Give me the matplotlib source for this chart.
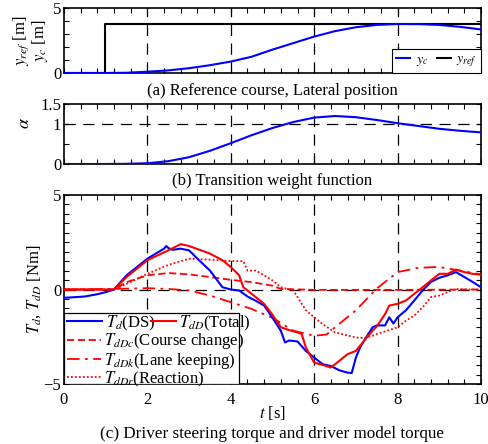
import numpy as np
import matplotlib
matplotlib.use("Agg")
import matplotlib.pyplot as plt
from matplotlib.patches import Rectangle
from matplotlib.ticker import MultipleLocator

plt.rcParams['font.family'] = ['Liberation Serif', 'DejaVu Serif']
plt.rcParams['mathtext.fontset'] = 'stix'
plt.rcParams['font.size'] = 11

# (a) lateral position
t_pos = [0, 1, 1.5, 2, 2.5, 3, 3.5, 4, 4.5, 5, 5.5, 6, 6.5, 7, 7.5, 8, 8.5, 9, 9.5, 10]
y_c = [0, 0, 0.02, 0.1, 0.2, 0.37, 0.6, 0.88, 1.25, 1.8, 2.3, 2.8, 3.22, 3.52, 3.7, 3.77, 3.76, 3.7, 3.55, 3.35]
t_ref = [0, 0.98, 0.98, 10]
y_ref = [0, 0, 3.77, 3.77]

# (b) transition weight
alpha = [0, 0, 0.005, 0.02, 0.07, 0.17, 0.33, 0.52, 0.72, 0.9, 1.05, 1.16, 1.2, 1.17, 1.1, 1.02, 0.95, 0.88, 0.83, 0.79]

# (c) torques
t_Td = [0, 0.3, 0.5, 0.8, 1.0, 1.2, 1.5, 1.7, 2.0, 2.2, 2.4, 2.45, 2.5, 2.6, 2.8, 3.0, 3.2, 3.5, 3.8, 4.0,
        4.2, 4.4, 4.6, 4.8, 5.0, 5.2, 5.3, 5.4, 5.6, 5.8, 6.0, 6.2, 6.4, 6.6, 6.8, 6.9, 7.0, 7.1, 7.2, 7.4,
        7.5, 7.7, 7.8, 7.9, 8.0, 8.2, 8.4, 8.6, 8.8, 9.0, 9.2, 9.4, 9.6, 9.8, 10]
Td = [-0.44, -0.4, -0.37, -0.25, -0.14, 0, 0.75, 1.1, 1.63, 1.9, 2.16, 2.3, 2.2, 2.1, 2.16, 2.07, 1.63, 1.0, 0.12, 0,
      -0.05, -0.37, -0.6, -0.85, -1.5, -2.18, -2.8, -2.7, -2.75, -3.25, -3.6, -3.95, -4.05, -4.27, -4.4, -4.42, -3.6, -3.07, -2.7, -2.0,
      -1.9, -1.9, -1.47, -1.8, -1.47, -1.1, -0.58, -0.05, 0.4, 0.62, 0.75, 0.92, 0.66, 0.4, 0.12]

t_tot = [0, 1.2, 1.5, 2.0, 2.5, 2.8, 3.0, 3.5, 3.8, 4.0, 4.2, 4.3, 4.5, 4.8, 5.0, 5.2, 5.4, 5.6, 5.7, 5.8, 6.0,
         6.2, 6.4, 6.6, 6.8, 7.0, 7.2, 7.4, 7.5, 7.7, 7.8, 8.0, 8.2, 8.4, 8.6, 8.8, 9.0, 9.2, 9.4, 9.6, 9.8, 10]
T_tot = [0, 0, 0.66, 1.55, 2.07, 2.4, 2.3, 1.9, 1.55, 1.19, 0.75, 0.12, -0.23, -0.76, -1.34, -2.0, -2.15, -2.27, -2.36, -3.07, -3.87,
         -3.99, -4.13, -3.78, -3.42, -3.25, -2.7, -2.18, -1.95, -1.3, -0.85, -0.76, -0.58, -0.23, 0.12, 0.48, 0.83, 0.83, 1.05, 0.92, 0.83, 0.78]

t_c = [0, 1.2, 1.5, 2.0, 2.5, 3.0, 3.5, 4.0, 4.5, 5.0, 5.2, 6, 7, 8, 9, 10]
T_c = [0, 0, 0.39, 0.75, 0.87, 0.8, 0.66, 0.51, 0.39, 0.2, 0.03, -0.02, -0.02, -0.02, -0.01, 0]

t_k = [0, 1, 2, 2.5, 3, 3.5, 4, 4.5, 5, 5.5, 6, 6.3, 6.5, 7, 7.5, 8, 8.5, 9, 9.5, 10]
T_k = [0, 0.02, 0.07, 0.03, -0.05, -0.32, -0.67, -1.03, -1.5, -2.18, -2.45, -2.38, -2.0, -1.1, 0.05, 0.92, 1.15, 1.19, 1.0, 0.8]

t_r = [0, 1.2, 1.5, 2, 2.5, 3, 3.5, 4, 4.3, 4.4, 4.6, 4.8, 5, 5.2, 5.5, 5.6, 5.8, 6, 6.2, 6.5, 7, 7.2, 7.4, 7.5,
       8, 8.2, 8.4, 8.6, 8.8, 9, 9.2, 9.4, 9.6, 10]
T_r = [0, 0, 0.3, 0.83, 1.3, 1.63, 1.58, 1.5, 1.5, 1.0, 1.0, 0.75, 0.48, 0.12, -0.05, -0.4, -1.1, -1.47, -1.83, -2.27, -2.54, -2.57, -2.45, -2.36,
       -2.0, -1.65, -1.38, -0.94, -0.4, -0.32, -0.14, 0.03, 0.0, 0.0]

vlines = [2, 4, 6, 8]
dash = (0, (9, 6))

fig = plt.figure(figsize=(4.89, 4.44), dpi=100)
L, W = 64 / 489, 417 / 489
ax1 = fig.add_axes([L, (444 - 73) / 444, W, 65 / 444])
ax2 = fig.add_axes([L, (444 - 164) / 444, W, 60 / 444])
ax3 = fig.add_axes([L, (444 - 384) / 444, W, 189 / 444])


def style(ax, ymin, ymax, yticks, ystep):
    ax.set_xlim(0, 10)
    ax.set_ylim(ymin, ymax)
    ax.set_xticks([0, 2, 4, 6, 8, 10])
    ax.xaxis.set_minor_locator(MultipleLocator(0.4))
    ax.set_yticks(yticks)
    ax.yaxis.set_minor_locator(MultipleLocator(ystep))
    ax.tick_params(which='both', direction='in', top=True, right=True, width=0.8, length=3.5)
    ax.tick_params(axis='both', pad=2, labelsize=12)
    ax.tick_params(axis='x', pad=6)
    for s in ax.spines.values():
        s.set_linewidth(1.2)
    for v in vlines:
        ax.axvline(v, color='k', ls=dash, lw=0.9, zorder=1)


# panel a
style(ax1, 0, 5, [0, 5], 1)
ax1.plot(t_pos, y_c, color='b', lw=1.5, label='$y_c$', zorder=3)
ax1.plot(t_ref, y_ref, color='k', lw=1.5, label='$y_{ref}$', zorder=2)
ax1.set_xticklabels([])
ax1.set_ylabel('$y_{ref}$ [m]\n$y_c$ [m]', fontsize=12, labelpad=2, linespacing=0.9)
leg1 = ax1.legend(loc='lower right', ncol=2, fontsize=10, handlelength=1.0, handletextpad=0.4,
                  columnspacing=0.6, borderaxespad=0, borderpad=0.3, fancybox=False, edgecolor='k',
                  framealpha=1)
leg1.get_frame().set_linewidth(0.8)
ax1.text(0.5, -0.27, '(a) Reference course, Lateral position', transform=ax1.transAxes,
         ha='center', va='center', fontsize=12)

# panel b
style(ax2, 0, 1.5, [0, 1, 1.5], 0.5)
ax2.set_yticklabels(['0', '1', '1.5'])
ax2.axhline(1, color='k', ls=dash, lw=0.9, zorder=1)
ax2.plot(t_pos, alpha, color='b', lw=1.5, zorder=3)
ax2.set_xticklabels([])
ax2.set_ylabel(r'$\alpha$', fontsize=13)
ax2.yaxis.set_label_coords(-0.075, 0.68)
ax2.text(0.5, -0.29, '(b) Transition weight function', transform=ax2.transAxes,
         ha='center', va='center', fontsize=12)

# panel c
style(ax3, -5, 5, [-5, 0, 5], 0.5)
ax3.axhline(0, color='k', ls=dash, lw=0.9, zorder=1)
h_d, = ax3.plot(t_Td, Td, color='b', lw=1.5, zorder=3)
h_tot, = ax3.plot(t_tot, T_tot, color='r', lw=1.5, zorder=4)
h_c, = ax3.plot(t_c, T_c, color='r', lw=1.3, ls=(0, (4, 2)), zorder=2)
h_k, = ax3.plot(t_k, T_k, color='r', lw=1.3, ls=(0, (7, 3, 1.5, 3)), zorder=2)
h_r, = ax3.plot(t_r, T_r, color='r', lw=1.3, ls=(0, (1, 1.2)), zorder=2)
ax3.set_xlabel('$t$ [s]', fontsize=12, labelpad=-3)
ax3.set_ylabel('$T_d$, $T_{dD}$ [Nm]', fontsize=12, labelpad=0)
ax3.text(0.5, -0.265, '(c) Driver steering torque and driver model torque', transform=ax3.transAxes,
         ha='center', va='center', fontsize=12.3)

box_h = 0.376
box_w = 0.42
ax3.add_patch(Rectangle((0, 0), box_w, box_h, transform=ax3.transAxes, facecolor='white',
                        edgecolor='k', lw=0.9, zorder=5))
leg_kw = dict(loc='upper left', frameon=False, fontsize=12, handletextpad=0.2,
              borderaxespad=0, borderpad=0.2)
legA1 = ax3.legend([h_d], ['$T_d$(DS)'], bbox_to_anchor=(0.0, box_h + 0.015),
                   handlelength=2.1, **leg_kw)
legA1.set_zorder(6)
ax3.add_artist(legA1)
legA2 = ax3.legend([h_tot], ['$T_{dD}$(Total)'], bbox_to_anchor=(0.2, box_h + 0.015),
                   handlelength=1.5, **leg_kw)
legA2.set_zorder(6)
ax3.add_artist(legA2)
legB = ax3.legend([h_c, h_k, h_r], ['$T_{dDc}$(Course change)', '$T_{dDk}$(Lane keeping)',
                                    '$T_{dDr}$(Reaction)'],
                  bbox_to_anchor=(0.0, box_h - 0.08), handlelength=2.0, labelspacing=-0.05,
                  **leg_kw)
legB.set_zorder(6)

fig.savefig('out.png', dpi=100)
plt.close(fig)
